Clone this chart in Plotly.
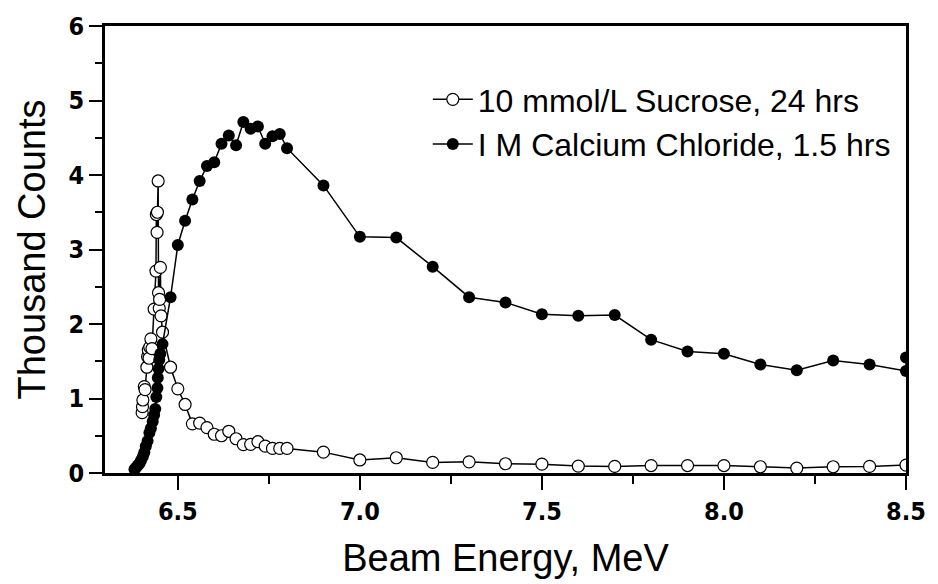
import plotly.graph_objects as go

# Sucrose sample (10 mmol/L, 24 hrs): beam energy (MeV) and counts (thousands)
sucrose_energy = [
    6.402, 6.403, 6.404, 6.408, 6.410, 6.415, 6.417, 6.419, 6.421, 6.423,
    6.426, 6.429, 6.435, 6.440, 6.441, 6.443, 6.444, 6.446, 6.447, 6.449,
    6.450, 6.452, 6.454, 6.458, 6.480, 6.500, 6.520, 6.540, 6.560, 6.580,
    6.600, 6.620, 6.640, 6.660, 6.680, 6.700, 6.720, 6.740, 6.760, 6.780,
    6.800, 6.900, 7.000, 7.100, 7.200, 7.300, 7.400, 7.500, 7.600, 7.700,
    7.800, 7.900, 8.000, 8.100, 8.200, 8.300, 8.400, 8.500,
]
sucrose_counts = [
    0.81, 0.89, 0.98, 1.16, 1.12, 1.42, 1.56, 1.65, 1.54, 1.69,
    1.80, 1.67, 2.20, 2.71, 3.47, 3.23, 3.50, 3.92, 2.42, 2.21,
    2.33, 2.76, 2.11, 1.89, 1.42, 1.13, 0.92, 0.66, 0.67, 0.61,
    0.52, 0.50, 0.56, 0.46, 0.38, 0.385, 0.42, 0.36, 0.33, 0.33,
    0.33, 0.28, 0.175, 0.205, 0.142, 0.150, 0.124, 0.119, 0.093, 0.088,
    0.100, 0.100, 0.100, 0.084, 0.066, 0.084, 0.088, 0.106,
]

# Calcium chloride sample (1 M, 1.5 hrs)
cacl_energy = [
    6.381, 6.385, 6.390, 6.395, 6.399, 6.404, 6.408, 6.412, 6.417, 6.422,
    6.426, 6.431, 6.435, 6.438, 6.441, 6.444, 6.445, 6.447, 6.449, 6.452,
    6.458, 6.480, 6.500, 6.520, 6.540, 6.560, 6.580, 6.600, 6.620, 6.640,
    6.660, 6.680, 6.700, 6.720, 6.740, 6.760, 6.780, 6.800, 6.900, 7.000,
    7.100, 7.200, 7.300, 7.400, 7.500, 7.600, 7.700, 7.800, 7.900, 8.000,
    8.100, 8.200, 8.300, 8.400, 8.500, 8.500,
]
cacl_counts = [
    0.05, 0.07, 0.10, 0.13, 0.17, 0.22, 0.28, 0.36, 0.43, 0.54,
    0.60, 0.69, 0.78, 0.86, 1.02, 1.14, 1.28, 1.40, 1.52, 1.60,
    1.73, 2.36, 3.06, 3.385, 3.67, 3.92, 4.12, 4.17, 4.42, 4.53,
    4.40, 4.71, 4.62, 4.65, 4.42, 4.52, 4.55, 4.36, 3.86, 3.17,
    3.16, 2.77, 2.36, 2.29, 2.13, 2.11, 2.12, 1.79, 1.63, 1.60,
    1.456, 1.38, 1.51, 1.456, 1.37, 1.55,
]

series_names = ["10 mmol/L Sucrose, 24 hrs", "I M Calcium Chloride, 1.5 hrs"]

x_ticks = [6.5, 7.0, 7.5, 8.0, 8.5]
x_tick_text = ["6.5", "7.0", "7.5", "8.0", "8.5"]
y_ticks = [0, 1, 2, 3, 4, 5, 6]

fig = go.Figure()
fig.add_trace(go.Scatter(
    x=sucrose_energy, y=sucrose_counts, mode="lines+markers",
    name=series_names[0],
    line=dict(color="black", width=1.5),
    marker=dict(symbol="circle", size=12, color="white",
                line=dict(color="black", width=1.2)),
))
fig.add_trace(go.Scatter(
    x=cacl_energy, y=cacl_counts, mode="lines+markers",
    name=series_names[1],
    line=dict(color="black", width=1.5),
    marker=dict(symbol="circle", size=12, color="black",
                line=dict(color="black", width=0)),
))

tick_font = dict(family="Liberation Sans Narrow, Arial Narrow, DejaVu Sans Condensed, Liberation Sans",
                 size=25, color="black", weight="bold")
title_family = "Liberation Sans, Arial"

fig.update_layout(
    width=938, height=584,
    margin=dict(l=105, r=20, t=22, b=110),
    paper_bgcolor="white", plot_bgcolor="white",
    showlegend=True,
    legend=dict(
        x=0.403, y=0.897, xanchor="left", yanchor="top",
        bgcolor="rgba(0,0,0,0)",
        font=dict(family=title_family, size=32, color="black"),
        itemwidth=40,
    ),
    xaxis=dict(
        range=[6.3, 8.5], tickmode="array", tickvals=x_ticks, ticktext=x_tick_text,
        ticks="outside", ticklen=14, tickwidth=2, tickcolor="black",
        minor=dict(dtick=0.25, tick0=6.5, ticks="outside", ticklen=8,
                   tickwidth=2, tickcolor="black", showgrid=False),
        showline=True, linecolor="black", linewidth=2.5, mirror=True,
        showgrid=False, zeroline=False,
        tickfont=tick_font,
        title=dict(text="Beam Energy, MeV", standoff=20,
                   font=dict(family=title_family, size=38, color="black")),
    ),
    yaxis=dict(
        range=[0, 6], tickmode="array", tickvals=y_ticks,
        ticks="outside", ticklen=13, tickwidth=2, tickcolor="black",
        minor=dict(dtick=0.5, tick0=0, ticks="outside", ticklen=7,
                   tickwidth=2, tickcolor="black", showgrid=False),
        showline=True, linecolor="black", linewidth=2.5, mirror=True,
        showgrid=False, zeroline=False,
        tickfont=tick_font,
        title=dict(text="Thousand Counts", standoff=12,
                   font=dict(family=title_family, size=38, color="black")),
    ),
)

fig.write_html("out.html")
